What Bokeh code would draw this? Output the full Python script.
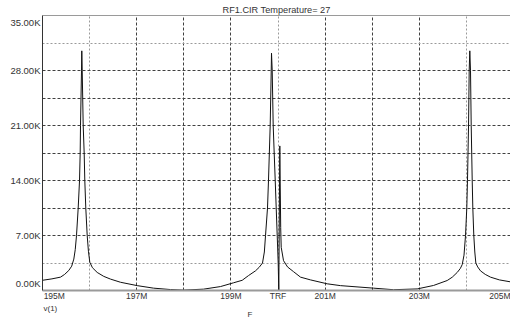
from bokeh.plotting import figure
from bokeh.models import Range1d, LinearAxis, Grid, FixedTicker, Title
from bokeh.embed import file_html
from bokeh.resources import INLINE

# ---- data (frequency in MHz, magnitude in K) ----
freq_mhz = [195.000, 195.200, 195.382, 195.470, 195.558, 195.620, 195.665, 195.695,
            195.722, 195.758, 195.786, 195.800, 195.807, 195.828, 195.834, 195.843,
            195.864, 195.885, 195.898, 195.919, 195.949, 195.975, 196.004, 196.060,
            196.161, 196.300, 196.444, 196.656, 197.011, 197.357, 197.718, 197.994,
            198.418, 198.779, 199.055, 199.240, 199.374, 199.522, 199.600, 199.671,
            199.710, 199.735, 199.777, 199.798, 199.834, 199.856, 199.862, 199.877,
            199.898, 199.919, 199.941, 199.962, 199.983, 200.004, 200.017, 200.038,
            200.057, 200.068, 200.117, 200.202, 200.329, 200.478, 200.690, 201.045,
            201.327, 202.028, 202.452, 202.955, 203.301, 203.592, 203.700, 203.805,
            203.870, 203.911, 203.949, 203.981, 204.008, 204.023, 204.045, 204.059,
            204.072, 204.087, 204.102, 204.123, 204.136, 204.157, 204.178, 204.200,
            204.240, 204.299, 204.400, 204.512, 204.700, 204.936, 205.000]
volts_k = [1.30, 1.48, 1.70, 2.05, 2.55, 3.10, 4.0, 5.2,
           7.0, 10.5, 14.0, 17.5, 21.0, 28.0, 30.5, 28.0,
           21.0, 17.5, 14.0, 10.5, 7.0, 5.0, 3.6, 2.9,
           2.3, 1.8, 1.45, 1.05, 0.62, 0.30, 0.12, 0.05,
           0.17, 0.50, 0.98, 1.30, 1.90, 2.50, 2.95, 3.50,
           4.9, 7.0, 10.5, 14.0, 21.0, 28.0, 30.2, 28.0,
           21.0, 17.5, 14.0, 10.5, 7.0, 3.5, 0.0, 18.4,
           8.0, 5.5, 3.8, 3.0, 2.4, 1.7, 1.35, 0.85,
           0.62, 0.30, 0.10, 0.20, 0.64, 1.27, 1.70, 2.3,
           2.8, 3.3, 4.5, 7.0, 10.5, 14.0, 21.0, 28.0,
           30.5, 28.0, 21.0, 14.0, 10.5, 7.0, 4.9, 3.5,
           3.0, 2.5, 2.05, 1.7, 1.35, 1.1, 1.0]

x_tick_vals = [195, 197, 199, 200, 201, 203, 205]
x_tick_labels = ["195M", "197M", "199M", "TRF", "201M", "203M", "205M"]
y_tick_vals = [0, 7, 14, 21, 28, 35]
y_tick_labels = ["0.00K", "7.00K", "14.00K", "21.00K", "28.00K", "35.00K"]

x_grid_dark = [197, 198, 199, 201, 202, 203]
x_grid_light = [196, 200, 204]
y_grid_dark = [7, 10.5, 14, 17.5, 21, 24.5, 28]
y_grid_light = [3.5, 31.5]

title_text = "RF1.CIR Temperature= 27"
trace_name = "v(1)"
x_title = "F"

FONT = "Liberation Sans"
TXT = "#333333"

p = figure(frame_width=468, frame_height=275, x_range=Range1d(195, 204.936), y_range=Range1d(0, 35),
           output_backend="svg", toolbar_location=None,
           min_border_left=42, min_border_right=0, min_border_top=15, min_border_bottom=31)
p.outline_line_color = None
p.xgrid.visible = False
p.ygrid.visible = False

# edge labels are pulled inward (as in the original), inner ones are centred
x_shift = [0.25] + [0] * (len(x_tick_vals) - 2) + [-0.25]
x_label_pos = [round(v + s, 3) for v, s in zip(x_tick_vals, x_shift)]
y_shift = [0.9] + [0] * (len(y_tick_vals) - 2) + [-0.85]
y_label_pos = [round(v + s, 3) for v, s in zip(y_tick_vals, y_shift)]

xa = p.xaxis[0]
xa.ticker = FixedTicker(ticks=x_label_pos)
xa.major_label_overrides = {v: t for v, t in zip(x_label_pos, x_tick_labels)}
ya = p.yaxis[0]
ya.ticker = FixedTicker(ticks=y_label_pos)
ya.major_label_overrides = {v: t for v, t in zip(y_label_pos, y_tick_labels)}

for ax, fs, so in ((xa, "8.5px", 0), (ya, "9.5px", 2)):
    ax.major_tick_line_color = None
    ax.minor_tick_line_color = None
    ax.major_tick_out = 0
    ax.major_tick_in = 0
    ax.minor_tick_out = 0
    ax.minor_tick_in = 0
    ax.major_label_standoff = so
    ax.major_label_text_font = FONT
    ax.major_label_text_font_size = fs
    ax.major_label_text_color = TXT
ya.axis_line_color = "#333333"
ya.axis_line_width = 1
xa.axis_line_color = "#9a9a9a"
xa.axis_line_width = 2

top = LinearAxis(ticker=FixedTicker(ticks=[]), major_label_text_font_size="0px",
                 major_tick_line_color=None, minor_tick_line_color=None,
                 major_tick_out=0, major_tick_in=0, minor_tick_out=0, minor_tick_in=0,
                 major_label_standoff=0, axis_line_color="#9a9a9a", axis_line_width=1)
p.add_layout(top, "above")

p.title.text = title_text
p.title.align = "center"
p.title.text_font = FONT
p.title.text_font_size = "9.2px"
p.title.text_font_style = "normal"
p.title.text_color = TXT
p.title.standoff = 1

for dim, ticks, color, dash in ((0, x_grid_dark, "#404040", "3 2"), (0, x_grid_light, "#9a9a9a", "2 2"),
                                (1, y_grid_dark, "#404040", "3 2"), (1, y_grid_light, "#9a9a9a", "2 2")):
    g = Grid(dimension=dim, ticker=FixedTicker(ticks=ticks), grid_line_color=color,
             grid_line_dash=dash, grid_line_width=1)
    p.add_layout(g)

p.line(freq_mhz, volts_k, line_color="#111111", line_width=1)

p.add_layout(Title(text=trace_name, align="left", offset=1, standoff=-4, text_font=FONT,
                   text_font_size="8px", text_font_style="normal", text_color=TXT), "below")
p.add_layout(Title(text=x_title, align="left", offset=205, standoff=-6, text_font=FONT,
                   text_font_size="8px", text_font_style="normal", text_color=TXT), "below")

open("out.html", "w").write(file_html(p, INLINE))
